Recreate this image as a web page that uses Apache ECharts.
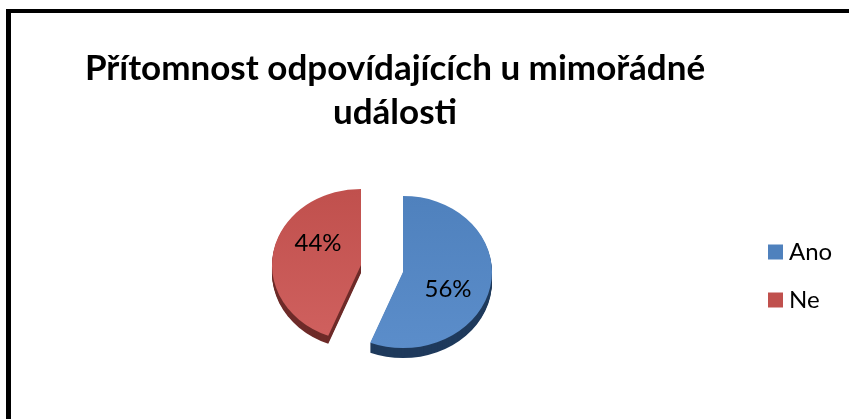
<!DOCTYPE html>
<html>
<head>
<meta charset="utf-8">
<title>Přítomnost odpovídajících</title>
<style>
html, body { margin: 0; padding: 0; background: #fff; }
#chart { width: 849px; height: 419px; }
</style>
<script src="https://cdn.jsdelivr.net/npm/echarts@6/dist/echarts.min.js"></script>
</head>
<body>
<div id="chart"></div>
<script>
var categories = ['Ano', 'Ne'];
var shares = [56, 44];
var titleText = 'Přítomnost odpovídajících u mimořádné\nudálosti';

// looks: top colour, bottom colour, side colour, centre of the slice, label offset, side depth
var looks = [
    { top: '#4f81bd', bottom: '#5b8dca', side: '#1f3a5c', cx: 403, cy: 272, lx: 45, ly: 17, depth: 10 },
    { top: '#c0504d', bottom: '#cf605e', side: '#6e2b29', cx: 361, cy: 265, lx: -43, ly: -22, depth: 8 }
];
var radius = 89;
var tilt = 0.855;

var total = shares[0] + shares[1];

function sliceAngles(idx) {
    var before = 0;
    for (var i = 0; i < idx; i++) before += shares[i];
    return {
        start: -Math.PI / 2 + before / total * Math.PI * 2,
        end: -Math.PI / 2 + (before + shares[idx]) / total * Math.PI * 2
    };
}

function makeRenderer(idx) {
    return function (params, api) {
        var look = looks[idx];
        var a = sliceAngles(idx);
        var kids = [];
        // side of the slice is a stack of dark sectors
        for (var d = look.depth; d > 0; d--) {
            kids.push({
                type: 'sector',
                x: look.cx, y: look.cy + d, scaleY: tilt,
                shape: { cx: 0, cy: 0, r0: 0, r: radius, startAngle: a.start, endAngle: a.end, clockwise: true },
                style: { fill: look.side }
            });
        }
        kids.push({
            type: 'sector',
            x: look.cx, y: look.cy, scaleY: tilt,
            shape: { cx: 0, cy: 0, r0: 0, r: radius, startAngle: a.start, endAngle: a.end, clockwise: true },
            style: {
                fill: new echarts.graphic.LinearGradient(0, 0, 0, 1, [
                    { offset: 0, color: look.top },
                    { offset: 1, color: look.bottom }
                ])
            }
        });
        kids.push({
            type: 'text',
            x: look.cx + look.lx, y: look.cy + look.ly,
            style: {
                text: api.value(0) + '%',
                fill: '#000',
                font: '24px Lato',
                align: 'center',
                verticalAlign: 'middle'
            }
        });
        return { type: 'group', children: kids };
    };
}

var chart = echarts.init(document.getElementById('chart'));

var option = {
    animation: false,
    backgroundColor: '#fff',
    title: {
        text: titleText,
        left: 390,
        top: 42,
        textAlign: 'center',
        textStyle: { fontFamily: 'Lato', fontWeight: 'bold', fontSize: 35, lineHeight: 44, color: '#000' }
    },
    legend: {
        orient: 'vertical',
        left: 768,
        top: 240,
        padding: 0,
        itemWidth: 15,
        itemHeight: 15,
        itemGap: 24,
        icon: 'rect',
        data: categories,
        textStyle: { fontFamily: 'Lato', fontSize: 24, lineHeight: 24, color: '#000', padding: [0, 0, 0, 1] }
    },
    graphic: [
        { type: 'rect', shape: { x: 6, y: 9, width: 843, height: 4 }, style: { fill: '#000' } },
        { type: 'rect', shape: { x: 6, y: 9, width: 5, height: 410 }, style: { fill: '#000' } }
    ],
    series: categories.map(function (name, i) {
        return {
            type: 'custom',
            name: name,
            coordinateSystem: 'none',
            itemStyle: { color: looks[i].top },
            renderItem: makeRenderer(i),
            data: [[shares[i]]]
        };
    })
};

chart.setOption(option);
</script>
</body>
</html>
